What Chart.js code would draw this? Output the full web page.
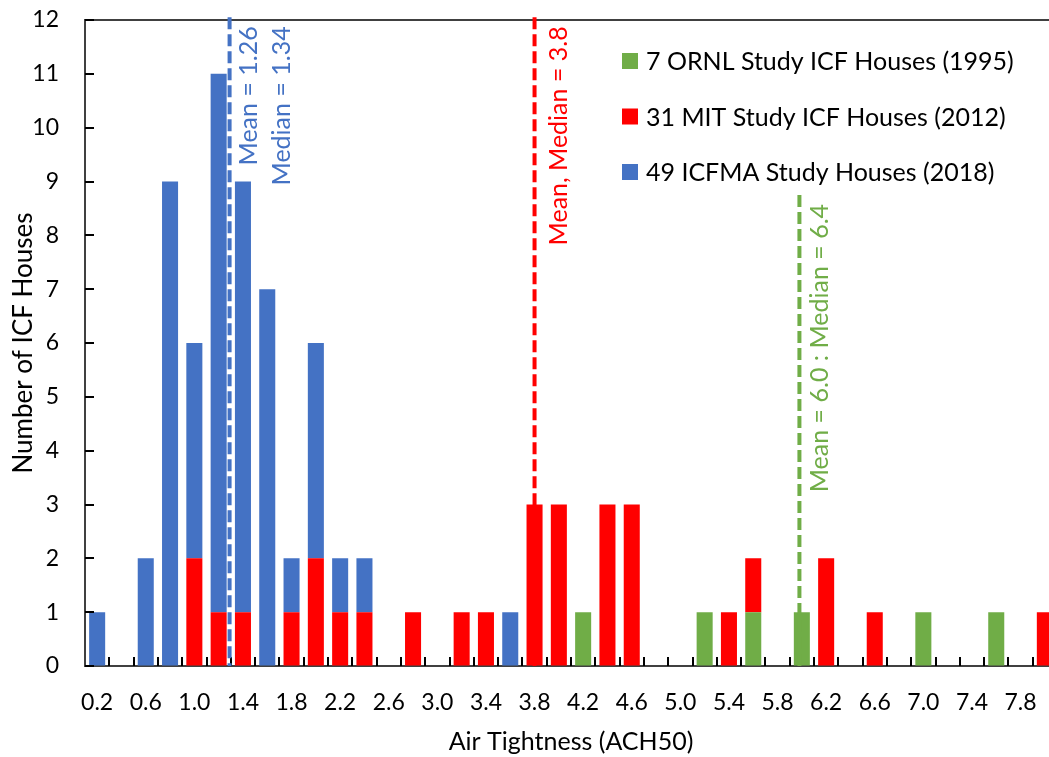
<!DOCTYPE html>
<html>
<head>
<meta charset="utf-8">
<title>ICF Houses Air Tightness</title>
<script src="https://cdn.jsdelivr.net/npm/chart.js@4.4.1/dist/chart.umd.min.js"></script>
<style>
  html, body { margin: 0; padding: 0; overflow: hidden; background: #fff; }
  #wrap { width: 1062px; height: 757px; }
</style>
</head>
<body>
<div id="wrap"><canvas id="chart" width="1062" height="757"></canvas></div>
<script>
// air tightness bins (ACH50)
const bins = ['0.2','0.4','0.6','0.8','1.0','1.2','1.4','1.6','1.8','2.0',
              '2.2','2.4','2.6','2.8','3.0','3.2','3.4','3.6','3.8','4.0',
              '4.2','4.4','4.6','4.8','5.0','5.2','5.4','5.6','5.8','6.0',
              '6.2','6.4','6.6','6.8','7.0','7.2','7.4','7.6','7.8','8.0'];

// number of houses per bin, per study
const ornl = [0,0,0,0,0, 0,0,0,0,0, 0,0,0,0,0, 0,0,0,0,0,
              1,0,0,0,0, 1,0,1,0,1, 0,0,0,0,1, 0,0,1,0,0];
const mit = [0,0,0,0,2, 1,1,0,1,2, 1,1,0,1,0, 1,1,0,3,3,
             0,3,3,0,0, 0,1,1,0,0, 2,0,1,0,0, 0,0,0,0,1];
const icfma = [1,0,2,9,4, 10,8,7,1,4, 1,1,0,0,0, 0,0,1,0,0,
               0,0,0,0,0, 0,0,0,0,0, 0,0,0,0,0, 0,0,0,0,0];

const seriesNames = ['7 ORNL Study ICF Houses (1995)',
                     '31 MIT Study ICF Houses (2012)',
                     '49 ICFMA Study Houses (2018)'];

const yTicks = [0,1,2,3,4,5,6,7,8,9,10,11,12];

// mean / median markers (value in ACH50, top of line in houses)
const markerValues = [1.29, 3.8, 5.98];
const markerTops = [12.05, 12.05, 8.75];
const markerLabels = [['Mean = 1.26', 'Median = 1.34'],
                      ['Mean, Median = 3.8'],
                      ['Mean = 6.0 : Median = 6.4']];

const GREEN = '#70AD47', RED = '#FF0000', BLUE = '#4472C4';
const colors = [GREEN, RED, BLUE];
const markerColors = [BLUE, RED, GREEN];
const AXIS = '#404040';

Chart.defaults.font.family = 'Lato, "Open Sans", sans-serif';
Chart.defaults.color = '#000';

function binIndex(v) {
  return (v - parseFloat(bins[0])) / (parseFloat(bins[1]) - parseFloat(bins[0]));
}

const overlay = {
  id: 'overlay',
  afterDatasetsDraw(chart) {
    const { ctx, chartArea: a, scales: { x, y } } = chart;
    ctx.save();

    // top frame line
    ctx.strokeStyle = AXIS;
    ctx.lineWidth = 2;
    ctx.beginPath();
    ctx.moveTo(a.left, a.top);
    ctx.lineTo(a.right, a.top);
    ctx.stroke();

    // inward tick marks
    ctx.strokeStyle = '#000';
    ctx.lineWidth = 2;
    ctx.beginPath();
    for (let i = 1; i < bins.length; i++) {
      const px = Math.round(x.getPixelForValue(i - 0.5));
      ctx.moveTo(px, a.bottom);
      ctx.lineTo(px, a.bottom - 9);
    }
    yTicks.forEach(t => {
      const py = Math.round(y.getPixelForValue(t));
      ctx.moveTo(a.left, py);
      ctx.lineTo(a.left + 9, py);
    });
    ctx.stroke();

    // dashed mean / median lines and labels
    const offsets = [[19, 52], [24], [21]];
    markerValues.forEach((v, k) => {
      const px = x.getPixelForValue(binIndex(v));
      const top = y.getPixelForValue(markerTops[k]);
      ctx.strokeStyle = markerColors[k];
      ctx.lineWidth = 4;
      ctx.setLineDash([12, 5]);
      ctx.beginPath();
      ctx.moveTo(px, top);
      ctx.lineTo(px, a.bottom);
      ctx.stroke();
      ctx.setLineDash([]);

      ctx.fillStyle = markerColors[k];
      ctx.font = '25px Lato';
      ctx.textAlign = 'right';
      ctx.textBaseline = 'middle';
      markerLabels[k].forEach((txt, j) => {
        ctx.save();
        ctx.translate(px + offsets[k][j], top + 9);
        ctx.rotate(-Math.PI / 2);
        ctx.fillText(txt, 0, 0);
        ctx.restore();
      });
    });

    // legend inside plot area
    ctx.font = '25px Lato';
    ctx.textAlign = 'left';
    ctx.textBaseline = 'middle';
    seriesNames.forEach((name, k) => {
      const cy = 61 + k * 55.5;
      ctx.fillStyle = colors[k];
      ctx.fillRect(622, cy - 8, 16, 16);
      ctx.fillStyle = '#000';
      ctx.fillText(name, 646, cy + 1);
    });

    ctx.restore();
  }
};

new Chart(document.getElementById('chart'), {
  type: 'bar',
  data: {
    labels: bins,
    datasets: [
      { label: seriesNames[0], data: ornl, backgroundColor: GREEN },
      { label: seriesNames[1], data: mit, backgroundColor: RED },
      { label: seriesNames[2], data: icfma, backgroundColor: BLUE }
    ]
  },
  options: {
    responsive: false,
    animation: false,
    layout: { autoPadding: false, padding: { top: 20, right: 5, left: 0, bottom: 0 } },
    datasets: { bar: { categoryPercentage: 1, barPercentage: 0.66, borderWidth: 0 } },
    plugins: { legend: { display: false }, tooltip: { enabled: false } },
    scales: {
      x: {
        stacked: true,
        afterFit: s => { s.height = 91; s.paddingLeft = 0; s.paddingRight = 0; },
        grid: { display: true, drawOnChartArea: false, drawTicks: false },
        border: { color: AXIS, width: 2 },
        ticks: {
          autoSkip: false, maxRotation: 0, padding: 23,
          font: { size: 23 },
          callback: (val, i) => (i % 2 === 0 ? bins[i] : '')
        },
        title: { display: true, text: 'Air Tightness (ACH50)', font: { size: 25 }, padding: 0 }
      },
      y: {
        stacked: true,
        min: 0, max: 12,
        afterFit: s => { s.width = 85; s.paddingTop = 0; s.paddingBottom = 0; },
        grid: { display: true, drawOnChartArea: false, drawTicks: false },
        border: { color: AXIS, width: 2 },
        ticks: { stepSize: 1, padding: 26, font: { size: 23 } },
        title: { display: true, text: 'Number of ICF Houses', font: { size: 26 }, padding: { top: 8, bottom: 0 } }
      }
    }
  },
  plugins: [overlay]
});
</script>
</body>
</html>
